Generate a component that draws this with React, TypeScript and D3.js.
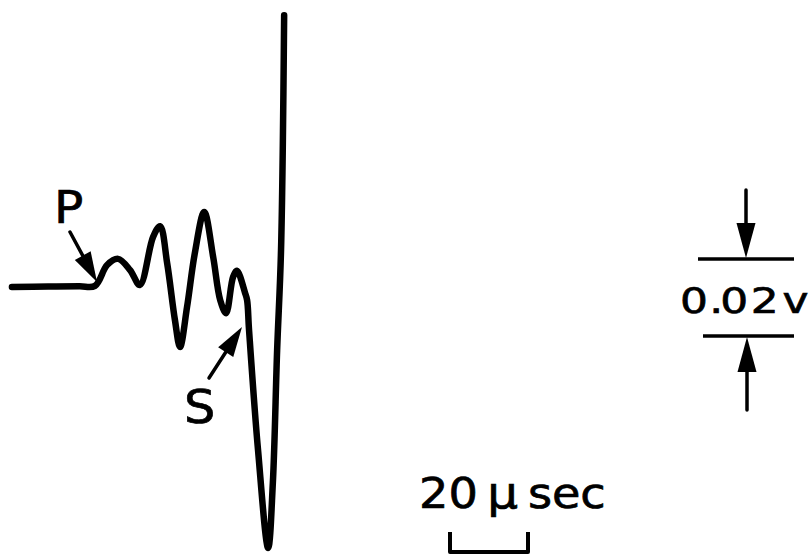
import React from "react";
import * as d3 from "d3";

// Time after P arrival (µs) and trace amplitude (mV)
const timeUs = [-21.3, -12.0, -4.0, 0, 3.1, 5.9, 9.0, 11.5, 14.9, 16.7, 18.5, 20.5, 21.8, 23.6, 25.6, 28.0, 30.3, 32.1, 33.6, 35.4, 36.4, 38.5, 39.0, 39.5, 41.8, 44.4, 45.6, 46.7, 47.7, 48.5];
const amplitudeMv = [0, 0.1, 0.2, 0.3, 5.7, 7.3, 4.4, 0.5, 13.0, 15.8, 6.2, -8.6, -15.6, -5.2, 8.8, 19.5, 7.8, -3.4, -6.8, 2.6, 4.2, -1.6, -3.4, -11.2, -42.3, -67.8, -50.9, -16.4, 9.6, 70.6];

// Scale bars
const timeBarUs = 20;
const voltBarMv = 20;
const timeBarLabel = ["20", "\u03bc", "sec"];
const voltBarLabel = "0.02v";
const waveLabels = ["P", "S"];

const W = 811;
const H = 557;
const FONT = "'DejaVu Sans', 'Liberation Sans', sans-serif";

export default function App() {
  const x = d3.scaleLinear().domain([0, 1]).range([95, 95 + 3.9]);
  const y = d3.scaleLinear().domain([0, 1]).range([287, 287 - 3.85]);

  const pts: [number, number][] = timeUs.map((t, i) => [x(t), y(amplitudeMv[i])]);
  const line = d3.line().curve(d3.curveCatmullRom.alpha(0.5));
  const d = line(pts) || "";

  const tbw = x(timeBarUs) - x(0);
  const vbh = y(0) - y(voltBarMv);

  const arrowHead = (tx: number, ty: number, fx: number, fy: number, len: number, hw: number) => {
    const ang = Math.atan2(ty - fy, tx - fx);
    const bx = tx - len * Math.cos(ang);
    const by = ty - len * Math.sin(ang);
    const px = -Math.sin(ang) * hw;
    const py = Math.cos(ang) * hw;
    return { pts: `${tx},${ty} ${bx + px},${by + py} ${bx - px},${by - py}`, bx, by };
  };

  const arrow = (fx: number, fy: number, tx: number, ty: number, len: number, hw: number, sw: number) => {
    const h = arrowHead(tx, ty, fx, fy, len, hw);
    return (
      <g>
        <line x1={fx} y1={fy} x2={h.bx} y2={h.by} stroke="#000" strokeWidth={sw} strokeLinecap="round" />
        <polygon points={h.pts} fill="#000" />
      </g>
    );
  };

  const vTop = 259;
  const vBot = vTop + vbh;
  const tLeft = 450;
  const tBottom = 552;
  const txt = { fontFamily: FONT, fill: "#000", stroke: "#000", strokeWidth: 0.7 };

  return (
    <svg width={W} height={H} style={{ position: "absolute", left: 0, top: 0, background: "#fff" }}>
      <rect width={W} height={H} fill="#fff" />
      <path d={d} fill="none" stroke="#000" strokeWidth={6.5} strokeLinecap="round" strokeLinejoin="round" />

      {/* P and S labels */}
      <g transform="translate(54,223) scale(1.08,1)">
        <text x={0} y={0} fontSize={45} {...txt}>{waveLabels[0]}</text>
      </g>
      {arrow(70, 232, 97, 282, 30, 9, 3.5)}
      <g transform="translate(184,423) scale(1.05,1)">
        <text x={0} y={0} fontSize={47} {...txt}>{waveLabels[1]}</text>
      </g>
      {arrow(209, 378, 242, 327, 30, 9, 3.5)}

      {/* voltage scale */}
      {arrow(746, 190, 746, vTop - 1, 35, 9.5, 3.5)}
      <line x1={698} x2={794} y1={vTop} y2={vTop} stroke="#000" strokeWidth={3.5} />
      <g transform="translate(680,313) scale(1.22,1)">
        <text x="0 24 33 58 84" y={0} fontSize={36} {...txt}>{voltBarLabel}</text>
      </g>
      <line x1={703} x2={794} y1={vBot} y2={vBot} stroke="#000" strokeWidth={3.5} />
      {arrow(747, 410, 747, vBot + 1, 35, 9.5, 3.5)}

      {/* time scale */}
      <g transform="translate(419,508) scale(1.1,1)">
        <text y={0} fontSize={42} {...txt}>
          <tspan x={0}>{timeBarLabel[0]}</tspan>
          <tspan x={62} fontSize={44}>{timeBarLabel[1]}</tspan>
          <tspan x={99}>{timeBarLabel[2]}</tspan>
        </text>
      </g>
      <path
        d={`M${tLeft},${tBottom - 20} L${tLeft},${tBottom} L${tLeft + tbw},${tBottom} L${tLeft + tbw},${tBottom - 20}`}
        fill="none"
        stroke="#000"
        strokeWidth={4}
        strokeLinejoin="round"
      />
    </svg>
  );
}
